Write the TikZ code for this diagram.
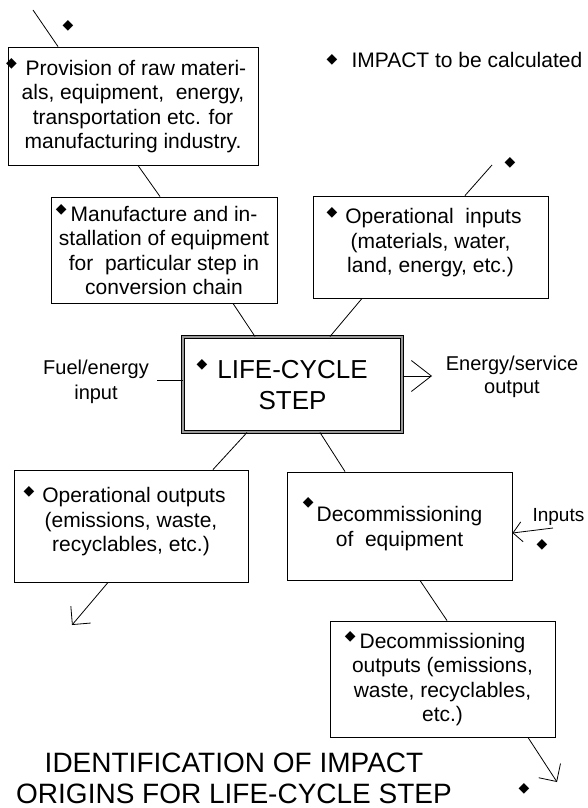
\documentclass[tikz,border=0pt]{standalone}
\usepackage{fontspec}
\setmainfont{Liberation Sans}
\newfontfamily\dejavu{DejaVu Sans}
\usetikzlibrary{arrows.meta}
\NewDocumentCommand{\impl}{O{4pt} O{7.5pt}}{\llap{\raisebox{#2}{\dejavu\fontsize{14}{14}\selectfont ◆}\hspace{#1}}}

\begin{document}
\begin{tikzpicture}[x=1pt, y=-1pt, every node/.style={font=\fontsize{21}{24.5}\selectfont},
        lcbox/.style={draw, line width=0.9pt, rectangle, align=center, inner sep=0pt},
        impmark/.style={inner sep=0pt, font=\dejavu\fontsize{14}{14}\selectfont},
        wire/.style={line width=0.8pt},
        barb/.style={wire, -{Straight Barb[length=13pt,width=26pt]}}]
                \useasboundingbox (0,0) rectangle (588,808);

                % Key
                \node[impmark] (dkey) at (332,60) {◆};
                \node[anchor=west] (key) at (348,60) {IMPACT to be calculated};

                % Upstream boxes
                \node[lcbox, minimum width=250, minimum height=118] (prov) at (133,106) {\impl[3pt] Provision of raw materi-\\als, equipment,\ \ energy,\\transportation etc. for\\manufacturing industry.};
                \node[lcbox, minimum width=226, minimum height=106] (manu) at (164,250) {\impl Manufacture and in-\\stallation of equipment\\for\ \ particular step in\\conversion chain};
                \node[lcbox, minimum width=235, minimum height=102] (opin) at (430.5,247) {\impl[2pt] Operational\ \ inputs\\(materials, water,\\land, energy, etc.)\rule[-14pt]{0pt}{0pt}};

                % Central step
                \node[lcbox, minimum width=219, minimum height=95, line width=1pt, double=black!40, double distance=2.5pt,
                      font=\fontsize{26}{31}\selectfont] (lcs) at (292.5,384.5) {\impl[10pt][10pt]LIFE-CYCLE\\STEP};
                \node[align=center, font=\fontsize{20}{25}\selectfont] (fuel) at (96,382) {Fuel/energy\\input};
                \node[align=center, font=\fontsize{20}{23}\selectfont] (eserv) at (512,377) {Energy/service\\output};

                % Downstream boxes
                \node[lcbox, minimum width=234, minimum height=112] (opout) at (131,526) {\impl[2pt] Operational outputs\\(emissions, waste,\\recyclables, etc.)\rule[-14pt]{0pt}{0pt}};
                \node[lcbox, minimum width=225, minimum height=108] (decom) at (399.5,526) {\impl[3pt][15pt]Decommissioning\\of\ \ equipment\rule[-8pt]{0pt}{0pt}};
                \node[lcbox, minimum width=225, minimum height=116] (decout) at (442.5,679) {\impl Decommissioning\\outputs (emissions,\\waste, recyclables,\\etc.)};
                \node[anchor=west, font=\fontsize{19}{24}\selectfont] (inp) at (529,517) {Inputs};

                % Loose diamonds
                \node[impmark] (dtop) at (68,26) {◆};
                \node[impmark] (dops) at (510,163) {◆};
                \node[impmark] (dinp) at (542,545) {◆};
                \node[impmark] (dout) at (524,789) {◆};

                % Connectors
                \coordinate (topend) at (33,10);
                \coordinate (opend) at (492,165);
                \coordinate (fuelend) at (157,380);
                \coordinate (eout) at (432,376);
                \coordinate (opoutend) at (72,625);
                \coordinate (inpend) at (553,528);
                \coordinate (decend) at (557,782);
                \draw[wire] (topend) -- ([xshift=-75pt]prov.north);
                \draw[wire] ([xshift=5pt]prov.south) -- ([xshift=-4pt]manu.north);
                \draw[wire] ([xshift=69pt]manu.south) -- ([xshift=-37.5pt]lcs.north);
                \draw[wire] ([xshift=34.5pt]opin.north) -- (opend);
                \draw[wire] ([xshift=-68.5pt]opin.south) -- ([xshift=37.5pt]lcs.north);
                \draw[wire] (fuelend) -- (fuelend -| lcs.west);
                \draw[wire, -{Straight Barb[length=20pt,width=31pt]}] (eout -| lcs.east) -- (eout);
                \draw[wire] ([xshift=-45.5pt]lcs.south) -- ([xshift=82pt]opout.north);
                \draw[barb] ([xshift=-23pt]opout.south) -- (opoutend);
                \draw[wire] ([xshift=27.5pt]lcs.south) -- ([xshift=-54.5pt]decom.north);
                \draw[wire, -{Straight Barb[length=9pt,width=20pt]}] (inpend) -- ([yshift=-7pt]decom.east);
                \draw[wire] ([xshift=20.5pt]decom.south) -- ([xshift=4.5pt]decout.north);
                \draw[barb] ([xshift=85.5pt]decout.south) -- (decend);

                % Title
                \node[align=center, font=\fontsize{28}{31}\selectfont] (title) at (234,778) {IDENTIFICATION OF IMPACT\\ORIGINS FOR LIFE-CYCLE STEP};
            \end{tikzpicture}
\end{document}
